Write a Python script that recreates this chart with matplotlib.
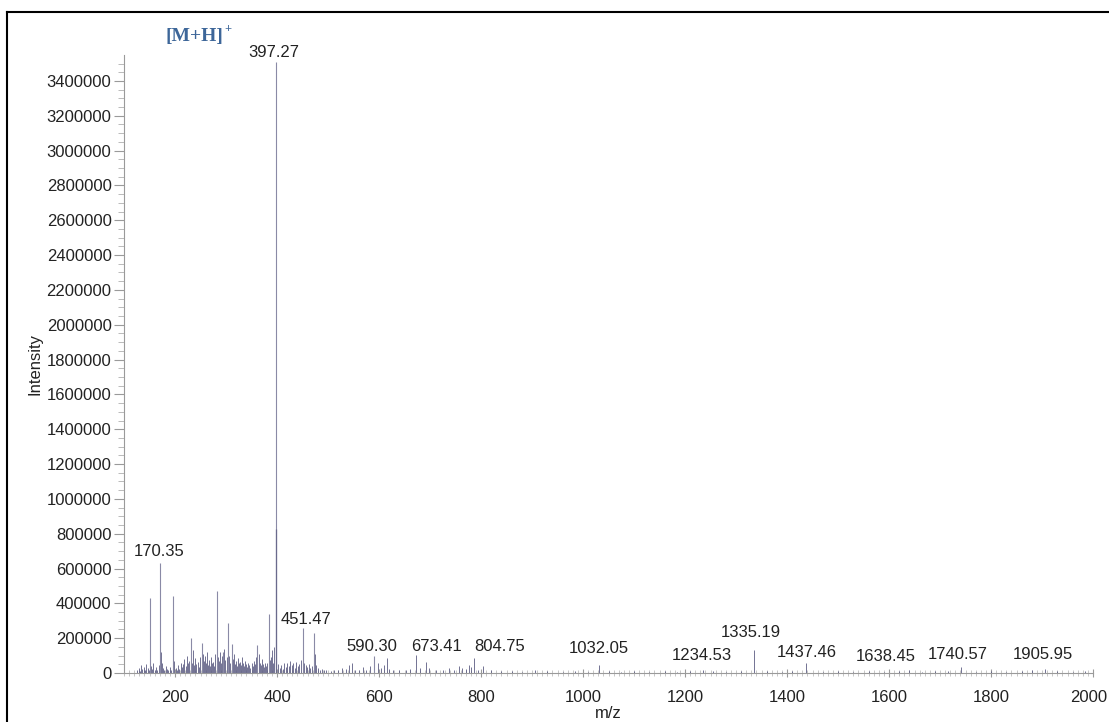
import matplotlib
matplotlib.use("Agg")
import matplotlib.pyplot as plt
import matplotlib.transforms as mtransforms
from matplotlib.ticker import MultipleLocator, FuncFormatter
from matplotlib.lines import Line2D

plt.rcParams['font.family'] = ['Liberation Sans', 'DejaVu Sans']

# strong peaks (m/z, intensity)
main_mz = [150.7, 170.35, 195.7, 230.7, 252.7, 281.7, 293.7, 303.7, 311.7,
           361.7, 383.7, 397.27, 451.47, 471.7, 590.30]
main_int = [430000, 632000, 442000, 200000, 172000, 471000, 120000, 287000, 167000,
            160000, 339000, 3510000, 258000, 230000, 100000]

# isotope peak drawn darker over the base of 397.27
iso_mz = [398.27]
iso_int = [825000]

# small peaks / noise bed
small_mz = [126, 129, 131, 133, 136, 139, 141, 144, 147, 149, 152, 155, 157, 160,
            163, 165, 168, 172, 174, 177, 179, 182, 185, 187, 190, 193, 198,
            201, 203, 206, 208, 211, 213, 216, 218, 221, 223, 225, 227, 233, 235,
            237, 240, 242, 245, 247, 249, 255, 257, 259, 261, 263, 265, 267, 269,
            271, 273, 275, 277, 279, 284, 286, 288, 290, 292, 296, 298,
            301, 306, 308, 314, 316, 318, 320, 322, 324, 326, 328, 330, 332, 334,
            336, 338, 340, 342, 344, 346, 348, 350, 352, 354, 356, 358, 364, 366,
            368, 370, 372, 374, 376, 378, 380, 386, 388, 390, 392, 394, 399,
            402, 405, 408, 411, 414, 417, 420, 423, 426, 429, 432, 435, 438, 441,
            444, 447, 453, 456, 459, 462, 465, 468, 474, 477, 480, 484, 488, 492, 496,
            505, 512, 520, 528, 536, 542, 548, 553, 560, 568, 575, 582, 598, 603,
            610, 615, 620, 628, 640, 652, 660, 673.41, 680, 692, 698, 712, 725, 738,
            748, 756, 762, 770, 776, 781, 787, 795, 804.75, 820, 840, 860, 880, 905,
            930, 960, 985,
            1010, 1032.05, 1050, 1075, 1100, 1130, 1160, 1185, 1210, 1234.53, 1255,
            1280, 1310, 1335.19, 1360, 1390, 1410, 1437.46, 1470, 1500, 1530, 1560,
            1590, 1620, 1638.45, 1665, 1690, 1715, 1740.57, 1770, 1800, 1830, 1860,
            1880, 1905.95, 1930, 1960, 1985]
small_int = [18000, 30000, 12000, 45000, 22000, 35000, 15000, 50000, 28000, 18000,
             40000, 25000, 60000, 20000, 35000, 15000, 45000, 120000, 55000, 30000,
             20000, 40000, 25000, 15000, 35000, 20000, 70000,
             30000, 15000, 45000, 25000, 60000, 35000, 50000, 80000, 40000, 95000,
             55000, 70000, 60000, 130000, 45000, 85000, 50000, 65000, 35000, 90000,
             110000, 70000, 100000, 60000, 120000, 45000, 75000, 40000, 90000, 55000,
             65000, 40000, 110000, 90000, 70000, 120000, 60000, 95000, 140000, 75000,
             90000, 100000, 60000, 80000, 110000, 50000, 70000, 40000, 85000, 55000,
             65000, 45000, 90000, 60000, 40000, 70000, 50000, 35000, 60000, 45000,
             30000, 55000, 40000, 70000, 50000, 90000, 110000, 60000, 45000, 80000,
             50000, 35000, 60000, 40000, 55000, 75000, 90000, 130000, 60000, 150000,
             120000,
             50000, 30000, 45000, 25000, 55000, 35000, 60000, 40000, 70000, 45000,
             55000, 30000, 65000, 40000, 50000, 75000, 60000, 45000, 35000, 50000,
             30000, 40000, 110000, 45000, 30000, 20000, 25000, 15000, 20000,
             10000, 20000, 15000, 30000, 25000, 45000, 55000, 20000, 15000, 35000,
             20000, 40000, 60000, 30000, 45000, 85000, 25000, 15000, 20000, 15000,
             25000, 104000, 30000, 66000, 30000, 20000, 15000, 30000, 20000, 40000,
             30000, 25000, 45000, 35000, 85000, 20000, 40000, 15000, 10000, 12000,
             8000, 15000, 10000, 8000, 12000,
             8000, 46000, 10000, 8000, 12000, 8000, 10000, 8000, 12000, 15000, 10000,
             8000, 12000, 130000, 10000, 8000, 12000, 57000, 8000, 10000, 8000, 10000,
             8000, 12000, 15000, 8000, 10000, 12000, 35000, 8000, 10000, 8000, 12000,
             15000, 25000, 10000, 8000, 10000]

# peak labels
label_text = ['397.27', '170.35', '451.47', '590.30', '673.41', '804.75', '1032.05',
              '1234.53', '1335.19', '1437.46', '1638.45', '1740.57', '1905.95']
label_x = [394, 168.6, 456.9, 586, 713.7, 837, 1031, 1233, 1329, 1439, 1594, 1735, 1902]
label_y = [3561000, 695000, 310000, 155000, 155000, 155000, 138000, 103000, 230000,
           115000, 92000, 109000, 109000]

W, H = 1109, 722
AX_L, AX_R, AX_T, AX_B = 124, 1093, 55, 673
fig = plt.figure(figsize=(W / 100, H / 100), dpi=100)
ax = fig.add_axes([AX_L / W, 1 - AX_B / H, (AX_R - AX_L) / W, (AX_B - AX_T) / H])

ax.vlines(small_mz, 0, small_int, color='#5a5a80', lw=0.7, alpha=0.85)
ax.vlines(main_mz, 0, main_int, color='#8a8aa6', lw=0.8)
ax.vlines(iso_mz, 0, iso_int, color='#6a6a8c', lw=0.9)

for t, x, y in zip(label_text, label_x, label_y):
    ax.text(x, y, t, ha='center', va='center', fontsize=12, color='#222222', clip_on=False)

ax.set_xlim(100, 2000)
ax.set_ylim(0, 3549000)

ax.xaxis.set_major_locator(MultipleLocator(200))
ax.xaxis.set_minor_locator(MultipleLocator(10))
ax.yaxis.set_major_locator(MultipleLocator(200000))
ax.yaxis.set_minor_locator(MultipleLocator(50000))
ax.yaxis.set_major_formatter(FuncFormatter(lambda v, p: '%d' % v))
ax.xaxis.set_major_formatter(FuncFormatter(lambda v, p: '%d' % v if v >= 200 else ''))

for s in ['top', 'right']:
    ax.spines[s].set_visible(False)
for s in ['left', 'bottom']:
    ax.spines[s].set_color('#9a9a9a')
    ax.spines[s].set_linewidth(0.8)

ax.tick_params(axis='both', which='major', labelsize=12, labelcolor='#222222',
               color='#9a9a9a', width=0.8)
ax.tick_params(axis='y', which='major', length=7, pad=2)
ax.tick_params(axis='y', which='minor', length=4, color='#b0b0b0', width=0.6)
ax.tick_params(axis='x', which='major', length=6, pad=9, direction='inout')
ax.tick_params(axis='x', which='minor', length=4, color='#b0b0b0', width=0.5,
               direction='inout')

ax.set_xlabel('m/z', fontsize=12, color='#222222')
ax.xaxis.set_label_coords(0.5, (AX_B - 706) / (AX_B - AX_T))
ax.set_ylabel('Intensity', fontsize=12, color='#222222')
ax.yaxis.set_label_coords((43 - AX_L) / (AX_R - AX_L), 0.5)

# keep the last x tick label inside the picture
fig.canvas.draw()
for lbl in ax.get_xticklabels():
    if lbl.get_text() == '2000':
        lbl.set_transform(lbl.get_transform() +
                          mtransforms.ScaledTranslation(-4 / 100, 0, fig.dpi_scale_trans))

fig.text(194 / W, 1 - 36 / H, '[M+H]', fontsize=14, fontweight='bold',
         family=['Liberation Serif', 'DejaVu Serif'], color='#3d6699',
         ha='center', va='center')
fig.text(228 / W, 1 - 29 / H, '+', fontsize=9, fontweight='bold',
         family=['Liberation Serif', 'DejaVu Serif'], color='#3d6699',
         ha='center', va='center')

# scanned page frame
fig.add_artist(Line2D([7 / W, 7 / W], [0, 1 - 12 / H], transform=fig.transFigure,
                      color='black', lw=1.5))
fig.add_artist(Line2D([7 / W, 1], [1 - 12 / H, 1 - 12 / H], transform=fig.transFigure,
                      color='black', lw=1.5))

fig.savefig('out.png', dpi=100)
